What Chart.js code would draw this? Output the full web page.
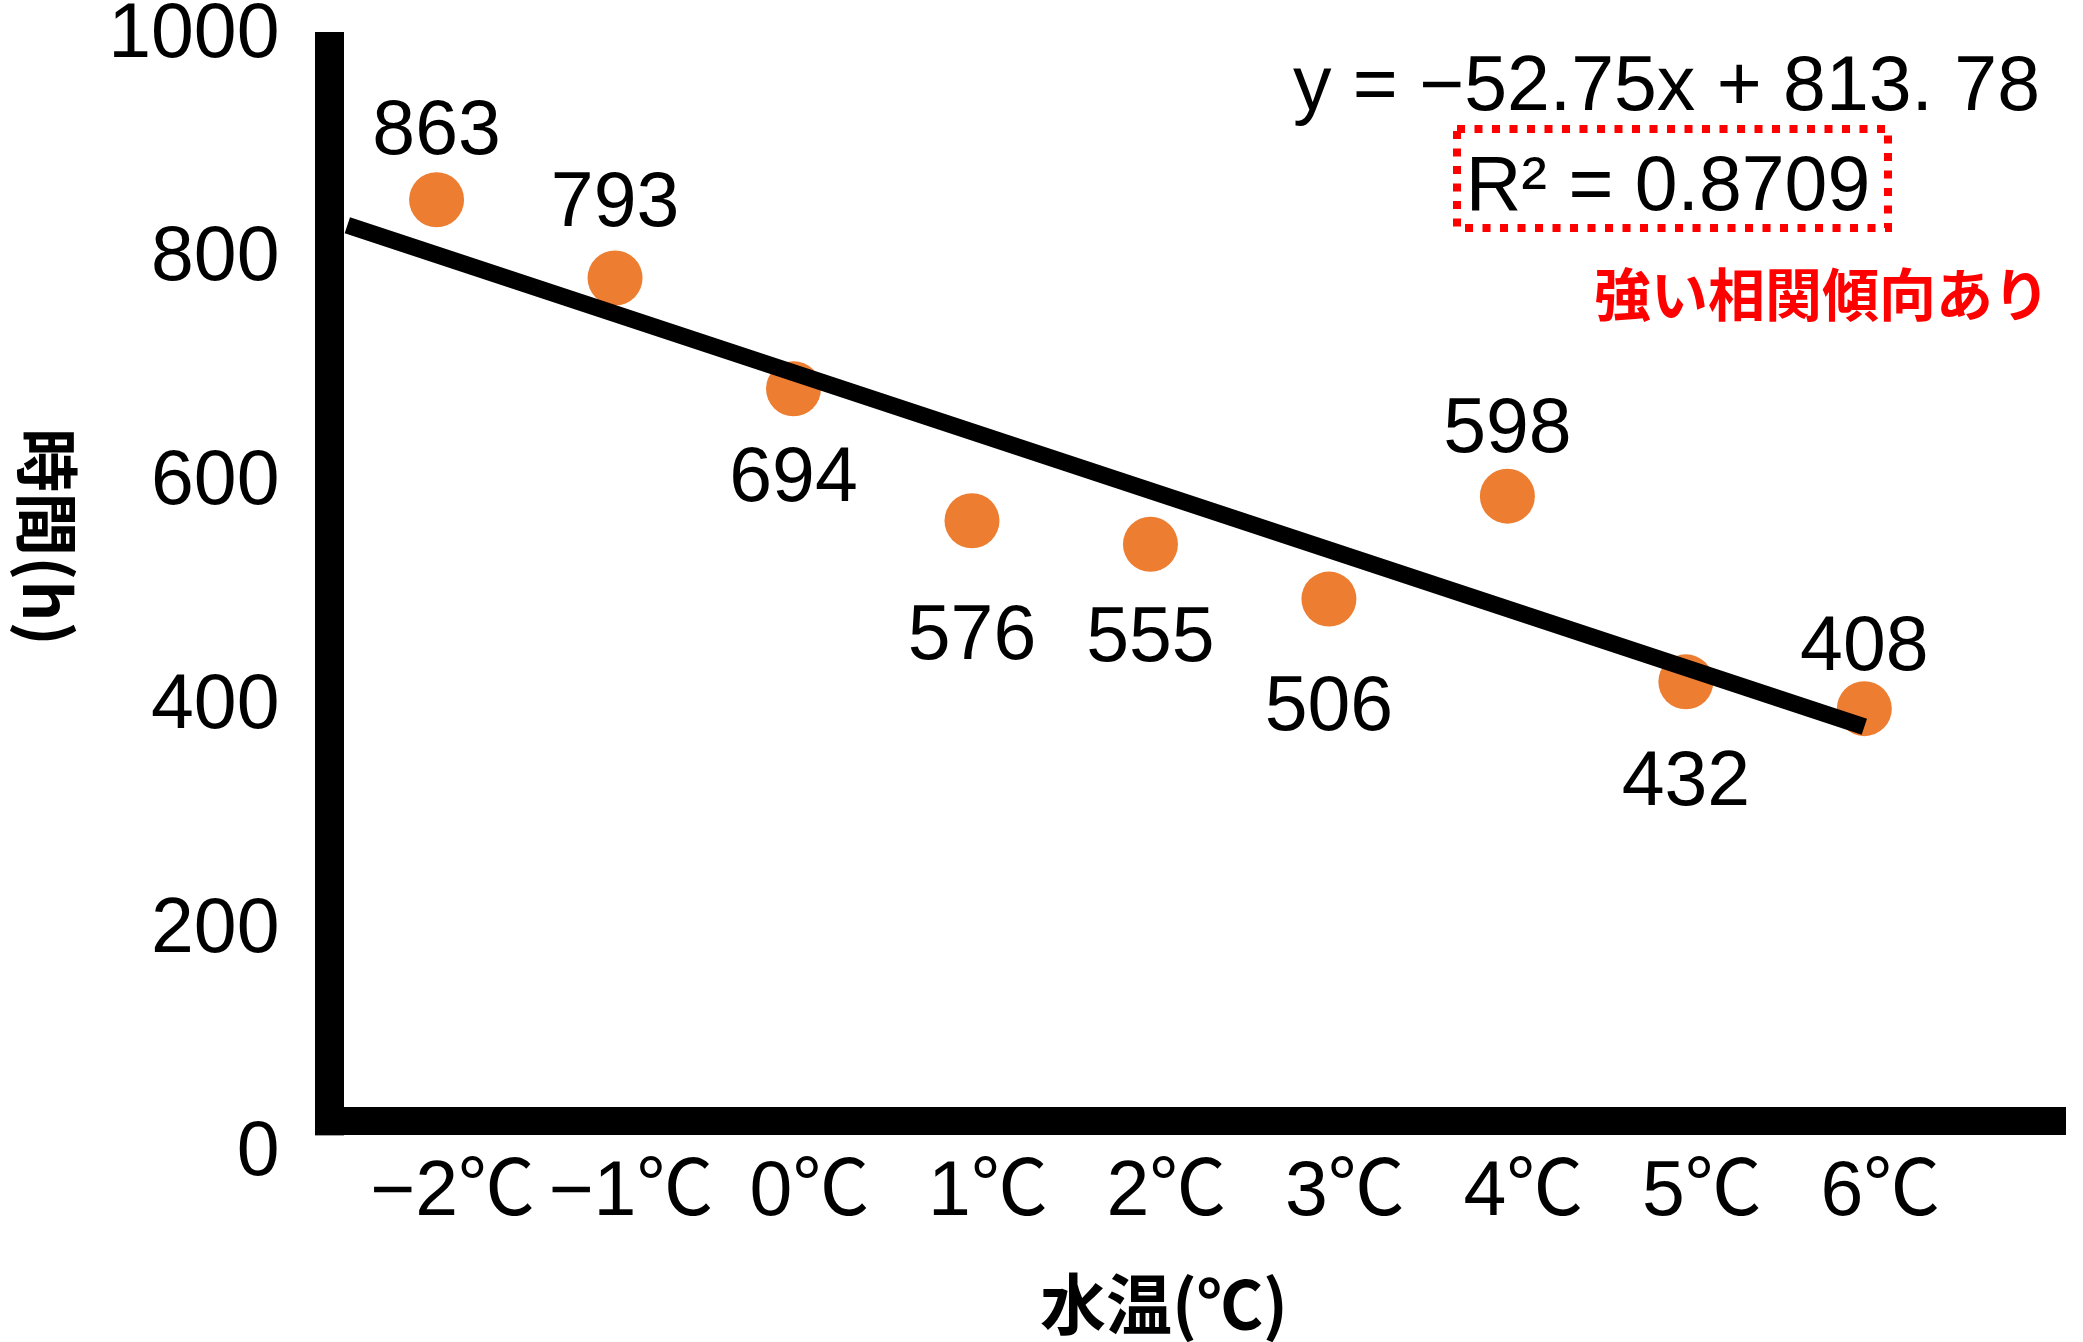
<!DOCTYPE html>
<html lang="ja">
<head>
<meta charset="utf-8">
<title>水温と時間</title>
<script src="https://cdn.jsdelivr.net/npm/chart.js@4.4.1/dist/chart.umd.min.js"></script>
<style>
  html, body { margin: 0; padding: 0; background: #fff; }
  #wrap { width: 2083px; height: 1342px; }
</style>
</head>
<body>
<div id="wrap"><canvas id="chart" width="2083" height="1342"></canvas></div>
<script>
// Water temperature categories and measured hours
const CATEGORIES = ['−2℃', '−1℃', '0℃', '1℃', '2℃', '3℃', '4℃', '5℃', '6℃'];
const HOURS = [863, 793, 694, 576, 555, 506, 598, 432, 408];

// Linear fit shown on the chart (x = category index 0..8)
const TREND_SLOPE = -52.75;
const TREND_INTERCEPT = 813.78;
const R_SQUARED = 0.8709;
const TREND_START = -0.5;            // fitted line starts half a category left of −2℃

// Y axis range
const Y_MIN = 0;
const Y_MAX = 1000;
const Y_STEP = 200;

// Vertical offset of each value label from its marker (px)
const LABEL_DY = [-67, -73, 91, 117, 96, 110, -65, 102, -60];

const NUM_FONT = '"Liberation Sans", "Noto Sans CJK JP", sans-serif';
const JP_FONT = '"Noto Sans CJK JP", sans-serif';
const ORANGE = '#ED7D31';
const RED = '#FF0000';
const X_AXIS_AT = 39;                // hours value where the horizontal axis line crosses

const points = HOURS.map((h, i) => ({ x: i, y: h }));
const trendLine = [TREND_START, CATEGORIES.length - 1].map(x => ({ x, y: TREND_SLOPE * x + TREND_INTERCEPT }));

// Thick vertical axis line, ending at the lower edge of the horizontal one
const ySpine = {
  id: 'ySpine',
  beforeDatasetsDraw(chart) {
    const { ctx, chartArea, scales } = chart;
    const w = 29;
    const bottom = scales.y.getPixelForValue(X_AXIS_AT) + 14;
    const top = chartArea.top - w / 2;
    ctx.save();
    ctx.fillStyle = '#000';
    ctx.fillRect(chartArea.left - w / 2, top, w, bottom - top);
    ctx.restore();
  }
};

// Value labels next to each marker
const valueLabels = {
  id: 'valueLabels',
  afterDatasetsDraw(chart) {
    const { ctx } = chart;
    const meta = chart.getDatasetMeta(1);
    ctx.save();
    ctx.fillStyle = '#000';
    ctx.font = `77px ${NUM_FONT}`;
    ctx.textAlign = 'center';
    ctx.textBaseline = 'middle';
    meta.data.forEach((pt, i) => {
      ctx.fillText(String(HOURS[i]), pt.x, pt.y + LABEL_DY[i]);
    });
    ctx.restore();
  }
};

// Axis titles, regression equation and note
const annotations = {
  id: 'annotations',
  afterDraw(chart) {
    const { ctx } = chart;
    ctx.save();

    // equation
    ctx.fillStyle = '#000';
    ctx.font = `77px ${NUM_FONT}`;
    ctx.textAlign = 'right';
    ctx.textBaseline = 'alphabetic';
    ctx.fillText(`y = −${Math.abs(TREND_SLOPE)}x + 813. 78`, 2040, 110);

    // R² with dotted red frame
    ctx.textAlign = 'center';
    ctx.fillText(`R² = ${R_SQUARED}`, 1668, 210);
    ctx.strokeStyle = RED;
    ctx.lineWidth = 8;
    ctx.setLineDash([8, 9.5]);
    ctx.strokeRect(1457, 129, 431, 99);
    ctx.setLineDash([]);

    // note
    ctx.fillStyle = RED;
    ctx.font = `bold 57px ${JP_FONT}`;
    ctx.textBaseline = 'middle';
    ctx.fillText('強い相関傾向あり', 1822, 294);

    // x axis title
    ctx.fillStyle = '#000';
    ctx.font = `bold 66px ${JP_FONT}`;
    ctx.fillText('水温(℃)', 1164, 1304);

    // y axis title, reading top to bottom
    ctx.font = `bold 64px ${JP_FONT}`;
    ctx.translate(47, 537);
    ctx.rotate(Math.PI / 2);
    ctx.fillText('時間(h)', 0, 0);

    ctx.restore();
  }
};

new Chart(document.getElementById('chart'), {
  type: 'scatter',
  data: {
    datasets: [
      {
        type: 'line',
        label: '近似直線',
        data: trendLine,
        borderColor: '#000',
        borderWidth: 17,
        borderCapStyle: 'butt',
        pointRadius: 0,
        fill: false,
        tension: 0,
        order: 0
      },
      {
        label: '時間',
        data: points,
        backgroundColor: ORANGE,
        borderWidth: 0,
        pointRadius: 27.5,
        pointHoverRadius: 27.5,
        order: 1
      }
    ]
  },
  options: {
    responsive: false,
    animation: false,
    events: [],
    layout: { autoPadding: false, padding: { top: 46.5, right: 17, bottom: 177, left: 0 } },
    plugins: { legend: { display: false }, tooltip: { enabled: false } },
    scales: {
      x: {
        type: 'linear',
        position: { y: X_AXIS_AT },
        min: -0.6,
        max: 9.13,
        grid: { display: false, drawTicks: false, lineWidth: 0 },
        border: { display: true, width: 28, color: '#000' },
        ticks: {
          stepSize: 1,
          includeBounds: false,
          autoSkip: false,
          maxRotation: 0,
          padding: 34,
          labelOffset: 16,
          color: '#000',
          font: { family: NUM_FONT, size: 77, lineHeight: 1 },
          callback: (v) => CATEGORIES[v] ?? ''
        },
        afterFit: (s) => { s.paddingLeft = 0; s.paddingRight = 0; }
      },
      y: {
        type: 'linear',
        min: Y_MIN,
        max: Y_MAX,
        grid: { display: false, drawTicks: false },
        border: { display: false },
        ticks: {
          stepSize: Y_STEP,
          padding: 50,
          labelOffset: -11,
          color: '#000',
          font: { family: NUM_FONT, size: 77, lineHeight: 1 },
          callback: (v) => String(v)
        },
        afterFit: (s) => { s.width = 329.5; s.paddingTop = 0; s.paddingBottom = 0; }
      }
    }
  },
  plugins: [ySpine, valueLabels, annotations]
});
</script>
</body>
</html>
